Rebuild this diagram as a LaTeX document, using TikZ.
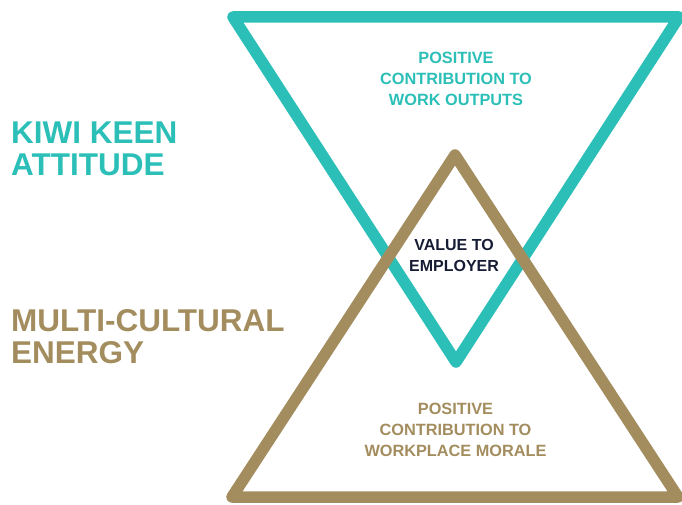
\documentclass[tikz,border=0pt]{standalone}
\usepackage{fontspec}
\setmainfont{Liberation Sans}
\definecolor{kiwiteal}{RGB}{43,191,184}
\definecolor{multigold}{RGB}{163,141,94}
\definecolor{valuenavy}{RGB}{22,28,52}

\begin{document}
\begin{tikzpicture}[x=1pt,y=-1pt,
    tri/.style={line width=11.5pt, line join=round},
    small/.style={font=\bfseries\fontsize{16.3}{21}\selectfont, align=center, inner sep=0pt},
    big/.style={font=\bfseries\fontsize{31.5}{32.5}\selectfont, align=left, anchor=west, inner sep=0pt}]
    \useasboundingbox (0,0) rectangle (682,505);

    % inverted triangle, then the upright one on top
    \draw[tri, kiwiteal]
        (233,17)
        -- (679,17)
        -- (456,362)
        -- cycle;
    \draw[tri, multigold]
        (455,155)
        -- (678,497)
        -- (232,497)
        -- cycle;

    \node[big, text=kiwiteal] (kiwi) at (11,149) {KIWI KEEN\\ATTITUDE};
    \node[big, text=multigold] (multi) at (11,336.5) {MULTI-CULTURAL\\ENERGY};

    \node[small, text=kiwiteal] (outputs) at (456,79)
        {POSITIVE\\CONTRIBUTION TO\\WORK OUTPUTS};
    \node[small, text=valuenavy, font=\bfseries\fontsize{16}{21}\selectfont] (value) at (454,255.5)
        {VALUE TO\\EMPLOYER};
    \node[small, text=multigold] (morale) at (455.5,429.5)
        {POSITIVE\\CONTRIBUTION TO\\WORKPLACE MORALE};
\end{tikzpicture}
\end{document}
